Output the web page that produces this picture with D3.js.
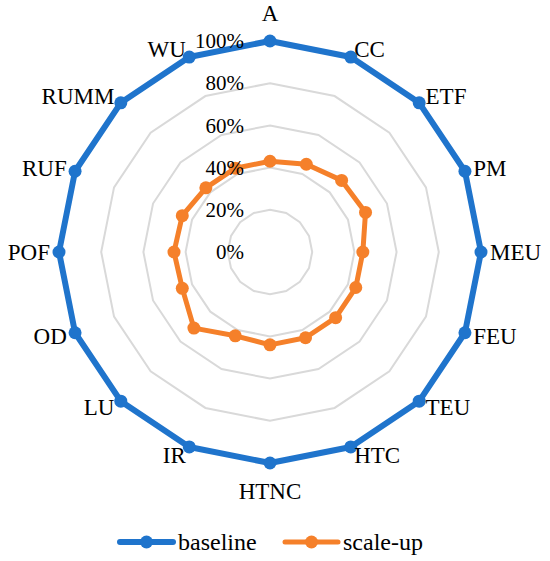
<!DOCTYPE html>
<html>
<head>
<meta charset="utf-8">
<script src="https://cdn.jsdelivr.net/npm/d3@7"></script>
<style>
  body { margin: 0; background: #fff; }
  text { font-family: "Liberation Serif", "Times New Roman", serif; fill: #000; }
</style>
</head>
<body>
<svg id="chart" width="550" height="561"></svg>
<script>
// Chart data
const categories = ["A", "CC", "ETF", "PM", "MEU", "FEU", "TEU", "HTC", "HTNC", "IR", "LU", "OD", "POF", "RUF", "RUMM", "WU"];
const baseline = [100, 100, 100, 100, 100, 100, 100, 100, 100, 100, 100, 100, 100, 100, 100, 100];
const scaleUp = [43, 45, 48, 49, 44, 44, 44, 44, 44, 43, 51, 45, 45.5, 45, 43, 43];
const ticks = [0, 20, 40, 60, 80, 100];
const seriesNames = ["baseline", "scale-up"];
const colors = ["#1F74CC", "#F5802A"];

const svg = d3.select("#chart");
const cx = 270, cy = 252, R = 211;

const r = d3.scaleLinear().domain([0, 100]).range([0, R]);
const step = 2 * Math.PI / categories.length;
const ang = (i) => i * step;

const g = svg.append("g").attr("transform", `translate(${cx},${cy})`);

const radial = d3.lineRadial()
  .angle((d, i) => ang(i))
  .radius(d => r(d))
  .curve(d3.curveLinearClosed);

// grid rings
g.selectAll(".ring")
  .data(ticks.filter(t => t > 0))
  .join("path")
  .attr("class", "ring")
  .attr("d", t => radial(categories.map(() => t)))
  .attr("fill", "none")
  .attr("stroke", "#d9d9d9")
  .attr("stroke-width", 2);

// series
const series = [baseline, scaleUp];
series.forEach((vals, s) => {
  g.append("path")
    .attr("d", radial(vals))
    .attr("fill", "none")
    .attr("stroke", colors[s])
    .attr("stroke-width", s === 0 ? 6 : 5)
    .attr("stroke-linejoin", "round");
  g.selectAll(".pt" + s)
    .data(vals)
    .join("circle")
    .attr("cx", (d, i) => r(d) * Math.sin(ang(i)))
    .attr("cy", (d, i) => -r(d) * Math.cos(ang(i)))
    .attr("r", 6.5)
    .attr("fill", colors[s]);
});

// tick labels
g.selectAll(".tick")
  .data(ticks)
  .join("text")
  .attr("x", -26)
  .attr("y", t => -r(t))
  .attr("dy", "0.34em")
  .attr("text-anchor", "end")
  .style("font-size", "21px")
  .text(t => t + "%");

// category labels
g.selectAll(".cat")
  .data(categories)
  .join("text")
  .each(function(c, i) {
    const a = ang(i);
    const sx = Math.sin(a), cy_ = -Math.cos(a);
    const vertical = Math.abs(sx) < 0.01;
    const d = r(100) + (vertical ? 28 : 9);
    d3.select(this)
      .attr("x", d * sx)
      .attr("y", d * cy_)
      .attr("dy", "0.34em")
      .attr("text-anchor", vertical ? "middle" : (sx > 0 ? "start" : "end"));
  })
  .style("font-size", "23px")
  .text(c => c);

// legend
const legend = svg.append("g").attr("transform", "translate(0,542)");
const legendX = [120, 285];
seriesNames.forEach((name, s) => {
  const lg = legend.append("g").attr("transform", `translate(${legendX[s]},0)`);
  lg.append("line")
    .attr("x1", 0).attr("x2", 53)
    .attr("stroke", colors[s])
    .attr("stroke-width", s === 0 ? 6 : 5)
    .attr("stroke-linecap", "round");
  lg.append("circle").attr("cx", 26.5).attr("r", 6.5).attr("fill", colors[s]);
  lg.append("text")
    .attr("x", 58)
    .attr("dy", "0.34em")
    .style("font-size", "24px")
    .text(name);
});
</script>
</body>
</html>
